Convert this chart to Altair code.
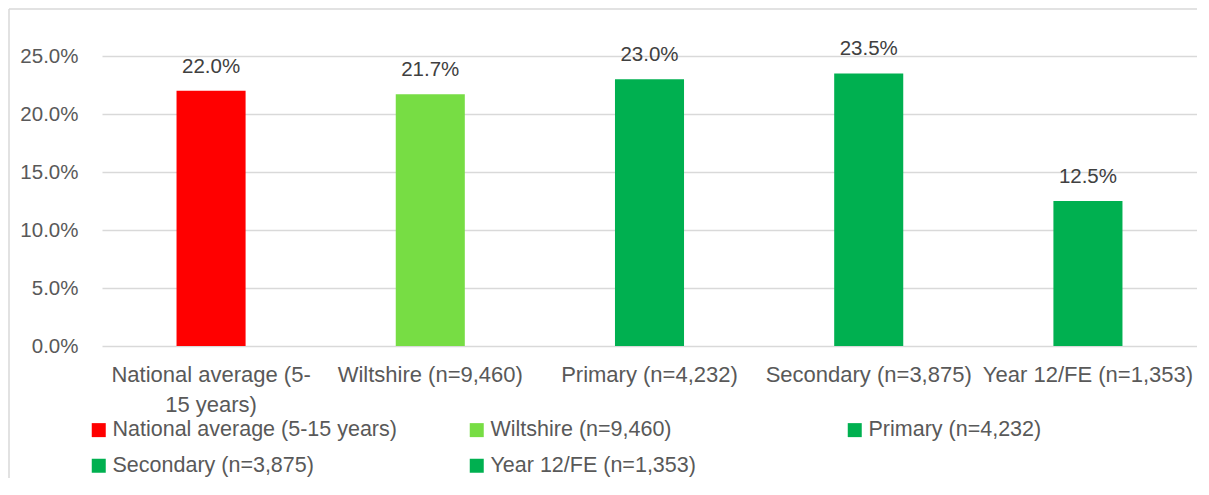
import altair as alt
import pandas as pd

categories = ["National average (5-15 years)", "Wiltshire (n=9,460)", "Primary (n=4,232)",
              "Secondary (n=3,875)", "Year 12/FE (n=1,353)"]
values = [22.0, 21.7, 23.0, 23.5, 12.5]
colors = ["#FF0000", "#77DD44", "#00B050", "#00B050", "#00B050"]
y_ticks = [0, 5, 10, 15, 20, 25]

df = pd.DataFrame({"cat": categories, "val": [v / 100 for v in values],
                   "lbl": [f"{v:.1f}%" for v in values]})

FONT = "Liberation Sans"
TXT = "#595959"

x_enc = alt.X("cat:N", sort=categories, title=None,
              scale=alt.Scale(paddingInner=0.685, paddingOuter=0.34),
              axis=alt.Axis(labelAngle=0, labelFontSize=22, labelColor=TXT, labelFont=FONT,
                            labelPadding=18, ticks=False, domain=False, labelLimit=300,
                            labelLineHeight=30, grid=False,
                            labelExpr="datum.label == 'National average (5-15 years)' ? ['National average (5-', '15 years)'] : datum.label"))
y_enc = alt.Y("val:Q", title=None,
              scale=alt.Scale(domain=[0, 0.25], nice=False),
              axis=alt.Axis(values=[t / 100 for t in y_ticks], format=".1%", labelFontSize=20.5,
                            labelColor=TXT, labelFont=FONT, labelPadding=24, ticks=False,
                            domain=False, grid=True, gridColor="#D9D9D9", gridWidth=1.5))

bars = alt.Chart(df).mark_bar().encode(
    x=x_enc, y=y_enc,
    color=alt.Color("cat:N", sort=categories,
                    scale=alt.Scale(domain=categories, range=colors),
                    legend=alt.Legend(title=None, orient="none", legendX=-14, legendY=363,
                                      direction="horizontal",
                                      columns=3, gridAlign="all", columnPadding=69,
                                      rowPadding=13, symbolType="square", symbolSize=196,
                                      symbolStrokeWidth=0, labelFontSize=21.5, labelColor=TXT,
                                      labelFont=FONT, labelOffset=3, labelLimit=400, padding=0))
)

text = alt.Chart(df).mark_text(baseline="alphabetic", dy=-18, fontSize=20.5, color="#404040",
                               font=FONT).encode(
    x=alt.X("cat:N", sort=categories), y="val:Q", text="lbl:N")

one = pd.DataFrame({"k": [0]})
border = alt.Chart(one).mark_rule(color="#D9D9D9", strokeWidth=1.5).encode(
    x=alt.value(-93), y=alt.value(-47), y2=alt.value(600))
border_top = alt.Chart(one).mark_rule(color="#D9D9D9", strokeWidth=1.5).encode(
    x=alt.value(-93), x2=alt.value(1200), y=alt.value(-47))

chart = alt.layer(border, border_top, bars, text).properties(
    width=1095, height=290,
    background="white",
    autosize=alt.AutoSizeParams(type="none"),
    padding={"left": 94, "top": 48, "right": 0, "bottom": 132},
).configure_view(stroke="transparent", strokeWidth=0)

chart.save("out.html", embed_options={"renderer": "svg", "actions": False})
